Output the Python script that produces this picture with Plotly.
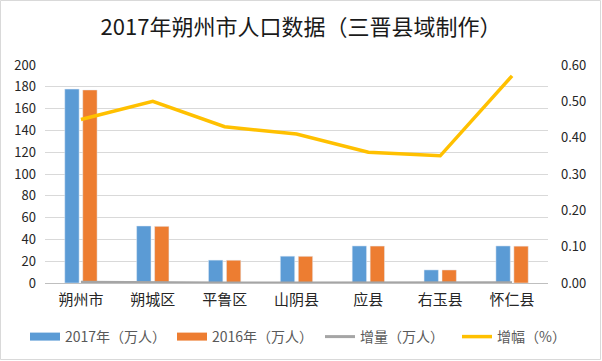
import plotly.graph_objects as go

categories = ["朔州市", "朔城区", "平鲁区", "山阴县", "应县", "右玉县", "怀仁县"]
pop_2017 = [177.9, 52.3, 21.0, 24.6, 34.0, 12.0, 34.0]
pop_2016 = [177.1, 52.0, 20.9, 24.5, 33.9, 11.96, 33.8]
increase = [0.8, 0.26, 0.09, 0.1, 0.12, 0.04, 0.19]
growth = [0.45, 0.50, 0.43, 0.41, 0.36, 0.35, 0.57]

left_ticks = [0, 20, 40, 60, 80, 100, 120, 140, 160, 180, 200]
right_ticks = [0.0, 0.1, 0.2, 0.3, 0.4, 0.5, 0.6]

font_family = "Noto Sans CJK SC, Noto Sans, sans-serif"
c2017, c2016, cinc, cgrow = "#5b9bd5", "#ed7d31", "#a5a5a5", "#ffc000"

fig = go.Figure()
fig.add_trace(go.Bar(x=categories, y=pop_2017, name="2017年（万人）", marker_color=c2017,
                     showlegend=False))
fig.add_trace(go.Bar(x=categories, y=pop_2016, name="2016年（万人）", marker_color=c2016,
                     showlegend=False))
# legend swatches drawn as thick lines to mimic wide rectangles
fig.add_trace(go.Scatter(x=[None], y=[None], name="2017年（万人）", mode="lines",
                         line=dict(color=c2017, width=8), legend="legend"))
fig.add_trace(go.Scatter(x=[None], y=[None], name="2016年（万人）", mode="lines",
                         line=dict(color=c2016, width=8), legend="legend2"))
fig.add_trace(go.Scatter(x=categories, y=increase, name="增量（万人）", mode="lines",
                         line=dict(color=cinc, width=3), legend="legend3"))
fig.add_trace(go.Scatter(x=categories, y=growth, name="增幅（%）", mode="lines", yaxis="y2",
                         line=dict(color=cgrow, width=3.5), legend="legend4"))

W, H = 602, 361
ml, mr, mt, mb = 45, 54, 65, 78
pw, ph = W - ml - mr, H - mt - mb


def leg(px):
    return dict(orientation="h", xref="container", yref="container",
                x=(px - 5) / W, xanchor="left", y=1 - 337 / H, yanchor="middle",
                font=dict(size=14, color="#595959"), itemwidth=30)


fig.update_layout(
    width=W, height=H,
    margin=dict(l=ml, r=mr, t=mt, b=mb, autoexpand=False),
    paper_bgcolor="white", plot_bgcolor="white",
    font=dict(family=font_family, size=12, color="#404040"),
    title=dict(text="2017年朔州市人口数据（三晋县域制作）", x=0.5, xanchor="center",
               y=1 - 27 / H, yanchor="middle",
               font=dict(size=22, color="#1a1a1a", family=font_family)),
    barmode="group", bargap=0.5, bargroupgap=0.2,
    xaxis=dict(showgrid=False, showline=True, linecolor="#bfbfbf", linewidth=1,
               tickfont=dict(size=15, color="#262626"), ticks="", ticklabelstandoff=3),
    yaxis=dict(range=[0, 200], tickvals=left_ticks, showgrid=True, gridcolor="#d9d9d9",
               zeroline=False, ticks="", tickfont=dict(size=13, color="#262626"),
               ticklabelstandoff=8),
    yaxis2=dict(range=[0, 0.6], tickvals=right_ticks, tickformat=".2f", overlaying="y",
                side="right", showgrid=False, zeroline=False, ticks="",
                tickfont=dict(size=13, color="#262626"), ticklabelstandoff=12),
    legend=leg(30), legend2=leg(177), legend3=leg(325), legend4=leg(462),
    showlegend=True,
)

fig.add_shape(type="rect", xref="paper", yref="paper",
              x0=-(ml - 0.5) / pw, x1=1 + (mr - 1.5) / pw,
              y0=-(mb - 1.5) / ph, y1=1 + (mt - 0.5) / ph,
              line=dict(color="#d9d9d9", width=1), fillcolor="rgba(0,0,0,0)", layer="below")

fig.write_html("out.html", config={"displayModeBar": False},
               post_script="document.body.style.margin='0';")
